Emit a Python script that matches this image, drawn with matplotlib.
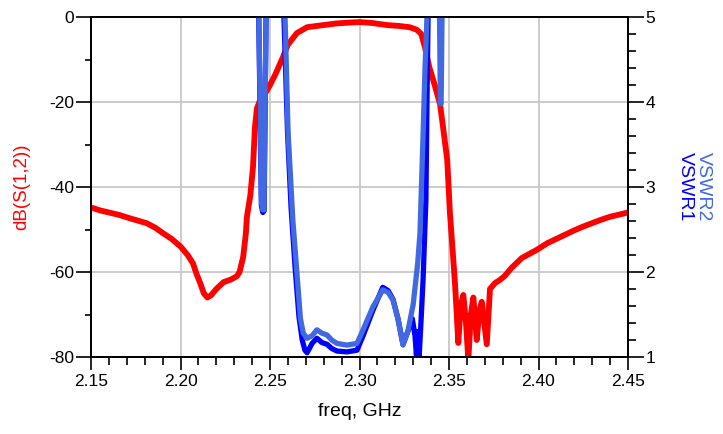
import numpy as np
import matplotlib.pyplot as plt
from matplotlib.ticker import MultipleLocator, StrMethodFormatter

plt.rcParams['font.family'] = ['Liberation Sans', 'DejaVu Sans']
plt.rcParams['axes.unicode_minus'] = False

# dB(S(1,2)) trace
freq_s12 = [2.150, 2.155, 2.160, 2.166, 2.172, 2.181, 2.186, 2.190, 2.195, 2.200,
            2.204, 2.207, 2.209, 2.211, 2.213, 2.215, 2.217, 2.220, 2.224, 2.228,
            2.2315, 2.233, 2.235, 2.2365, 2.2371, 2.239, 2.2405, 2.2416, 2.2427, 2.245,
            2.248, 2.250, 2.253, 2.2573, 2.260, 2.265, 2.2707, 2.278, 2.2874,
            2.295, 2.300, 2.307, 2.3154, 2.322, 2.328, 2.332, 2.3345, 2.3365, 2.339,
            2.342, 2.345, 2.347, 2.349, 2.3505, 2.3523, 2.3534, 2.3552, 2.3565, 2.3580,
            2.3595, 2.3608, 2.3622, 2.3636, 2.3655, 2.3670, 2.3683, 2.3711, 2.3729, 2.3757,
            2.378, 2.381, 2.385, 2.3907, 2.399, 2.405, 2.410, 2.415, 2.420, 2.425,
            2.430, 2.435, 2.440, 2.445, 2.450]
db_s12 = [-44.8, -45.5, -46.0, -46.6, -47.4, -48.5, -49.6, -50.8, -52.2, -54.0,
          -56.0, -58.0, -60.5, -62.6, -65.0, -66.0, -65.5, -64.0, -62.4, -61.8,
          -61.0, -60.0, -56.5, -51.0, -47.0, -42.0, -35.3, -25.9, -21.5, -19.0,
          -17.5, -16.0, -13.5, -9.4, -6.5, -3.8, -2.4, -2.0, -1.5,
          -1.3, -1.2, -1.4, -1.9, -2.1, -2.4, -3.0, -4.0, -7.0, -11.8,
          -16.0, -20.5, -27.0, -33.6, -46.0, -56.5, -63.0, -76.7, -68.0, -65.4,
          -72.0, -80.7, -70.0, -66.0, -76.0, -69.0, -67.0, -77.0, -64.0, -62.6,
          -62.0, -61.0, -59.0, -56.7, -54.8, -53.2, -52.2, -51.2, -50.2, -49.3,
          -48.5, -47.7, -47.0, -46.5, -46.0]

# VSWR1 (port 1), values above 5 run off the top of the chart
freq_v1 = [2.2420, 2.2437, 2.2452, 2.2460, 2.2467, 2.2478, 2.2495, 2.2560, 2.2578, 2.2598,
           2.2618, 2.2640, 2.2662, 2.2680, 2.2695, 2.2707, 2.2720, 2.2735, 2.2762, 2.2790,
           2.2818, 2.2845, 2.2874, 2.2930, 2.2986, 2.3020, 2.3075, 2.3130, 2.3160, 2.3187,
           2.3215, 2.3243, 2.3270, 2.3295, 2.3310, 2.3318, 2.3326, 2.3333, 2.3342, 2.3355,
           2.3371, 2.3377, 2.3383, 2.3395]
vswr1 = [9.0, 5.0, 2.78, 2.7, 2.72, 5.0, 9.0, 9.0, 5.0, 3.64,
         2.75, 2.06, 1.47, 1.2, 1.08, 1.05, 1.1, 1.16, 1.22, 1.17,
         1.15, 1.1, 1.07, 1.06, 1.08, 1.25, 1.55, 1.82, 1.78, 1.68,
         1.45, 1.15, 1.3, 1.45, 1.25, 1.02, 1.3, 1.0, 1.35, 1.9,
         2.85, 4.0, 5.0, 9.0]

# VSWR2 (port 2)
freq_v2 = [2.2420, 2.2438, 2.2453, 2.2460, 2.2466, 2.2478, 2.2495, 2.2565, 2.2584, 2.2601,
           2.2628, 2.2650, 2.2670, 2.2686, 2.2707, 2.2735, 2.2762, 2.2790, 2.2818, 2.2845,
           2.2874, 2.2930, 2.2986, 2.3020, 2.3075, 2.3130, 2.3160, 2.3187, 2.3215, 2.3243,
           2.3270, 2.3300, 2.3325, 2.3338, 2.3355, 2.3366, 2.3377, 2.3390, 2.3440, 2.3447,
           2.3452, 2.3456, 2.3461, 2.3475]
vswr2 = [9.0, 5.0, 2.81, 2.73, 2.73, 5.0, 9.0, 9.0, 5.0, 3.64,
         2.6, 2.0, 1.45, 1.28, 1.22, 1.25, 1.32, 1.28, 1.26, 1.2,
         1.16, 1.14, 1.16, 1.32, 1.59, 1.79, 1.76, 1.67, 1.45, 1.14,
         1.3, 1.62, 2.1, 2.46, 3.6, 4.4, 5.0, 9.0, 9.0, 5.0,
         3.98, 3.98, 5.0, 9.0]

fig = plt.figure(figsize=(7.23, 4.34), dpi=100)
ax = fig.add_axes([91 / 723, 1 - 357 / 434, 537 / 723, 340 / 434])

ax.plot(freq_s12, db_s12, color='#ff0000', lw=4.2, solid_joinstyle='round')
ax.set_xlim(2.15, 2.45)
ax.set_ylim(-80, 0)
ax.xaxis.set_major_locator(MultipleLocator(0.05))
ax.xaxis.set_minor_locator(MultipleLocator(0.01))
ax.xaxis.set_major_formatter(StrMethodFormatter('{x:.2f}'))
ax.yaxis.set_major_locator(MultipleLocator(20))
ax.yaxis.set_minor_locator(MultipleLocator(10))
ax.grid(True, which='major', color='#c8c8c8', lw=1.3)
ax.set_axisbelow(True)

ax.tick_params(axis='x', which='major', direction='out', length=9.5, width=1.2,
               pad=3, labelsize=12.5)
ax.tick_params(axis='x', which='minor', direction='out', length=5.5, width=1.2)
ax.tick_params(axis='y', which='major', direction='out', length=11, width=1.2,
               pad=1, labelsize=12.5)
ax.tick_params(axis='y', which='minor', direction='out', length=4.5, width=1.2)

ax.set_xlabel('freq, GHz', fontsize=14, labelpad=10)
ax.set_ylabel('dB(S(1,2))', fontsize=13.5, color='#ff0000', labelpad=14)

ax2 = ax.twinx()
ax2.plot(freq_v1, vswr1, color='#0000ff', lw=3.8, solid_joinstyle='round')
ax2.plot(freq_v2, vswr2, color='#4169e1', lw=3.8, solid_joinstyle='round')
ax2.set_ylim(1, 5)
ax2.yaxis.set_major_locator(MultipleLocator(1))
ax2.yaxis.set_minor_locator(MultipleLocator(0.2))
ax2.tick_params(axis='y', which='major', direction='out', length=11.5, width=1.2,
                pad=1, labelsize=12.5)
ax2.tick_params(axis='y', which='minor', direction='out', length=5.5, width=1.2)

for a in (ax, ax2):
    for s in a.spines.values():
        s.set_linewidth(1.3)

ax2.text(1.106, 0.5, 'VSWR1', transform=ax.transAxes, rotation=270,
         ha='center', va='center', fontsize=14, color='#0000ff')
ax2.text(1.140, 0.5, 'VSWR2', transform=ax.transAxes, rotation=270,
         ha='center', va='center', fontsize=14, color='#4169e1')

fig.savefig('out.png', dpi=100)
